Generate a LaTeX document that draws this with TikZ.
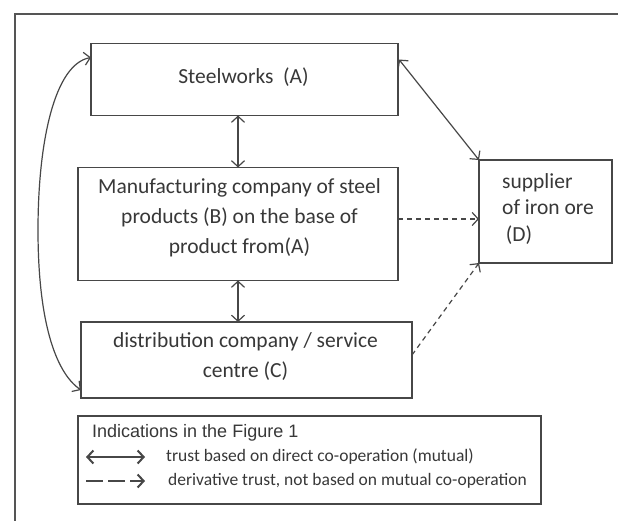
\documentclass[tikz,border=0pt]{standalone}
\usepackage{fontspec}
\setmainfont{Carlito}
\newfontfamily\legfont{Liberation Sans}
\usetikzlibrary{arrows.meta}
\definecolor{boxc}{HTML}{474747}
\definecolor{txtc}{HTML}{383838}
\definecolor{framec}{HTML}{555555}
\begin{document}
\begin{tikzpicture}[x=1pt,y=-1pt,
  boxnode/.style={draw=boxc, line width=1.3pt, inner sep=0pt, outer sep=0pt, rectangle},
  maintext/.style={text=txtc, inner sep=0pt, font=\fontsize{21.5}{30}\selectfont, align=center},
  barb/.tip={Straight Barb[length=6pt,width=13pt,line width=1.2pt]},
  boldbarb/.tip={Straight Barb[length=6pt,width=13pt,line width=2pt]},
  mutualarrow/.style={draw=boxc, line width=1.2pt, barb-barb},
  derivarrow/.style={draw=boxc, line width=1.2pt, dash pattern=on 5pt off 4pt, -barb},
  legtext/.style={text=txtc, inner sep=0pt, anchor=west, font=\fontsize{17.5}{20}\selectfont}
]
\useasboundingbox (0,0) rectangle (618,520);
\fill[white] (0,0) rectangle (618,520);
% outer frame (open at right and bottom)
\draw[framec, line width=1.3pt] (15,521) -- (15,14) -- (619,14);

% boxes
\node[boxnode, minimum width=307pt, minimum height=72pt] (A) at (244.5,79.5) {};
\node[boxnode, minimum width=320pt, minimum height=113pt] (B) at (238,224) {};
\node[boxnode, minimum width=331pt, minimum height=76pt] (C) at (246.5,360) {};
\node[boxnode, minimum width=133pt, minimum height=103pt] (D) at (545.5,211.5) {};
\node[boxnode, minimum width=463pt, minimum height=88pt] (L) at (309.5,460) {};

% texts
\node[maintext] (At) at (243.5,77) {Steelworks\ \ (A)};
\node[maintext] (Bt) at (239.5,218) {Manufacturing company of steel\\products (B) on the base of\\product from(A)};
\node[maintext] (Ct) at (245.5,357) {distribution company / service\\centre (C)};
\node[maintext, align=left, anchor=west, font=\fontsize{21.5}{26.5}\selectfont] (Dt) at (502,209) {supplier\\of iron ore\\\,(D)};

% connectors
\draw[mutualarrow] (B.north |- A.south) -- (B.north);
\draw[mutualarrow] (B.south) -- (B.south |- C.north);
\draw[mutualarrow] ([yshift=-14pt]A.north west) .. controls (55,64) and (38,140) .. (38,230)
   .. controls (38,320) and (55,372) .. ([yshift=8pt]C.south west);
\draw[mutualarrow] ([yshift=-16pt,xshift=1pt]A.north east) -- (D.north west);
\draw[derivarrow] ([yshift=5pt]B.east) -- ([yshift=-7.5pt]D.west);
\draw[derivarrow] ([yshift=5pt]C.east) -- (D.south west);

% legend
\node[legtext, font=\legfont\fontsize{18}{20}\selectfont] (Lt) at (92,433) {Indications in the Figure 1};
\coordinate (l1a) at (86,457);
\coordinate (l1b) at (145,457);
\coordinate (l2a) at (86,481);
\coordinate (l2b) at (145,481);
\draw[draw=boxc, line width=1.6pt, boldbarb-boldbarb] (l1a) -- (l1b);
\draw[draw=boxc, line width=1.6pt, dash pattern=on 17pt off 5pt, -boldbarb] (l2a) -- (l2b);
\node[legtext] (L1) at (166,457) {trust based on direct co-operation (mutual)};
\node[legtext] (L2) at (168,481) {derivative trust, not based on mutual co-operation};
\end{tikzpicture}
\end{document}
